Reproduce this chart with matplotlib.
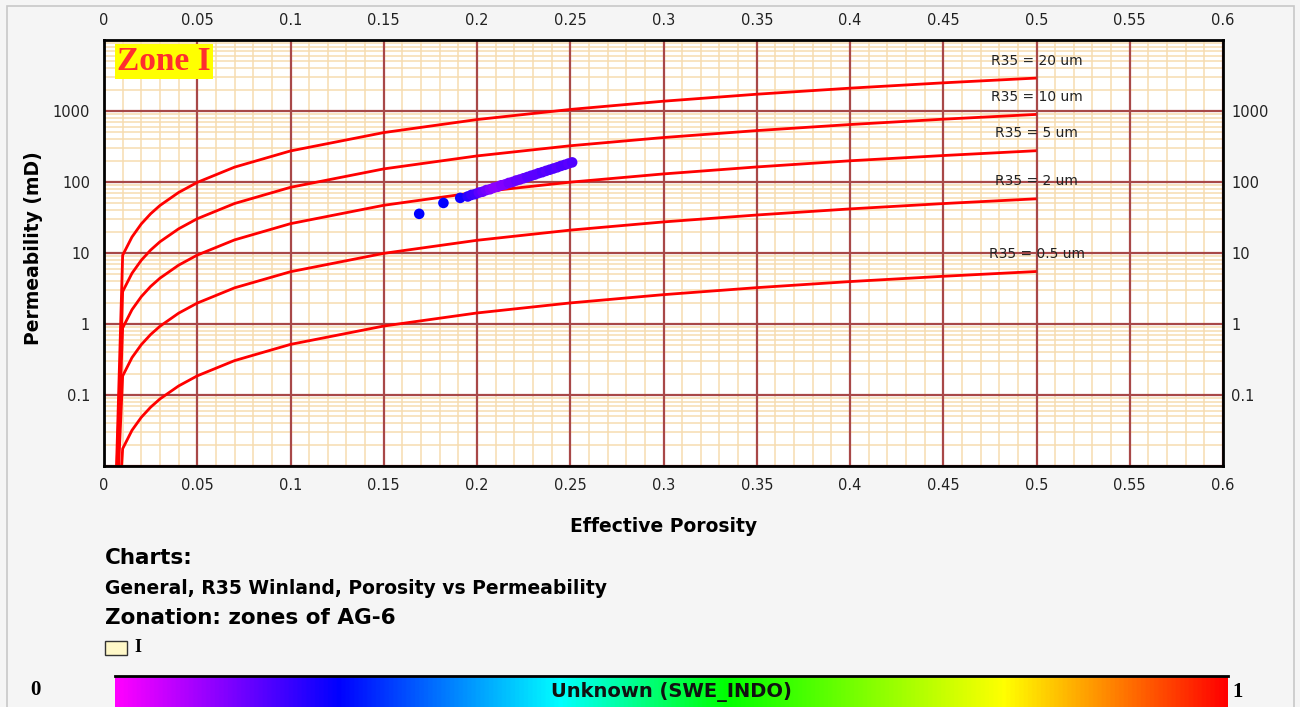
import numpy as np
import matplotlib
matplotlib.use('Agg')
import matplotlib.pyplot as plt
from matplotlib.colors import LinearSegmentedColormap
from matplotlib.patches import Rectangle
from matplotlib.ticker import FixedLocator, LogLocator, NullFormatter

#%% data
phi = [0.0045, 0.01, 0.015, 0.02, 0.025, 0.03, 0.04, 0.05, 0.07, 0.1,
       0.15, 0.2, 0.25, 0.3, 0.35, 0.4, 0.45, 0.5]
k_r20 = [1e-4, 9.29, 16.8, 25.7, 35.7, 46.7, 71.2, 98.8, 162, 274, 497, 758,
         1052, 1375, 1724, 2098, 2494, 2912]
k_r10 = [1e-4, 2.86, 5.18, 7.91, 11.0, 14.4, 21.9, 30.4, 49.8, 84.2, 153, 233,
         324, 423, 530, 645, 767, 896]
k_r5 = [1e-4, 0.879, 1.59, 2.43, 3.38, 4.42, 6.74, 9.35, 15.3, 25.9, 47.0,
        71.7, 99.5, 130, 163, 199, 236, 276]
k_r2 = [1e-4, 0.185, 0.336, 0.512, 0.711, 0.929, 1.42, 1.97, 3.23, 5.45, 9.89,
        15.1, 21.0, 27.4, 34.3, 41.8, 49.7, 58.0]
k_r05 = [1e-4, 0.0175, 0.0318, 0.0485, 0.0673, 0.0880, 0.134, 0.186, 0.305,
         0.516, 0.936, 1.43, 1.98, 2.59, 3.25, 3.96, 4.70, 5.49]
curve_labels = ['R35 = 20 um', 'R35 = 10 um', 'R35 = 5 um', 'R35 = 2 um', 'R35 = 0.5 um']

# samples (effective porosity, permeability, SWE_INDO)
por = [0.169, 0.182, 0.191, 0.195, 0.197, 0.199, 0.201, 0.203, 0.205, 0.207,
       0.209, 0.211, 0.213, 0.215, 0.217, 0.219, 0.221, 0.223, 0.225, 0.227,
       0.229, 0.231, 0.233, 0.235, 0.237, 0.239, 0.241, 0.243, 0.245, 0.247,
       0.249, 0.251]
perm = [35.6, 50.7, 59.7, 62.5, 65.8, 67.5, 71.0, 73.0, 77.0, 79.0,
        83.0, 85.5, 90.0, 92.5, 97.0, 100.0, 105.0, 108.5, 113.0, 117.5,
        122.5, 127.0, 133.0, 137.5, 143.5, 149.0, 155.0, 161.0, 168.5, 174.5,
        182.0, 189.0]
swe = [0.20, 0.20, 0.19, 0.17, 0.16, 0.15, 0.13, 0.12, 0.11, 0.10,
       0.09, 0.09, 0.10, 0.10, 0.11, 0.11, 0.12, 0.12, 0.12, 0.13,
       0.13, 0.13, 0.13, 0.14, 0.13, 0.14, 0.14, 0.13, 0.14, 0.14,
       0.13, 0.14]

x_ticks = [0, 0.05, 0.1, 0.15, 0.2, 0.25, 0.3, 0.35, 0.4, 0.45, 0.5, 0.55, 0.6]
y_ticks = [0.1, 1, 10, 100, 1000]
y_ticklabels = ['0.1', '1', '10', '100', '1000']
y_decades = [0.01, 0.1, 1, 10, 100, 1000, 10000]

cmap_pos = [0, 0.2, 0.4, 0.55, 0.8, 1.0]
cmap_col = ['#ff00ff', '#0000ff', '#00ffff', '#00ff00', '#ffff00', '#ff0000']

#%% figure
bg = '#f5f5f5'
major_c = '#a84848'
minor_c = '#f6dcb0'
txt_c = '#222222'
swe_cmap = LinearSegmentedColormap.from_list('swe', list(zip(cmap_pos, cmap_col)))

fig = plt.figure(figsize=(13, 7.07), dpi=100, facecolor=bg)
fig.patches.append(Rectangle((0.005, -0.01), 0.99, 1.002, transform=fig.transFigure,
                             fill=False, edgecolor='#c8c8c8', lw=1.2))

ax = fig.add_axes([0.08, 0.3409, 0.8608, 0.6025])
ax.set_facecolor('white')
ax.set_yscale('log')
ax.set_xlim(0, 0.6)
ax.set_ylim(0.01, 10000)

# grid: light minor lines, dark major lines drawn on top
ax.xaxis.set_major_locator(FixedLocator(x_ticks))
ax.xaxis.set_minor_locator(FixedLocator(np.round(np.arange(0, 0.601, 0.01), 3)))
ax.yaxis.set_major_locator(FixedLocator(y_ticks))
ax.yaxis.set_minor_locator(LogLocator(base=10, subs=np.arange(2, 10), numticks=20))
ax.yaxis.set_minor_formatter(NullFormatter())
ax.grid(which='minor', color=minor_c, lw=1.1)
ax.set_axisbelow(True)
for xv in x_ticks:
    ax.axvline(xv, color=major_c, lw=1.6, zorder=1)
for yv in y_decades:
    ax.axhline(yv, color=major_c, lw=1.6, zorder=1)

ax.set_xticklabels([f'{v:g}' for v in x_ticks])
ax.set_yticklabels(y_ticklabels)
ax.tick_params(which='both', length=0)
ax.tick_params(axis='x', pad=9, labelsize=10.5, labelcolor=txt_c)
ax.tick_params(axis='y', pad=10, labelsize=10.5, labelcolor=txt_c)

sx = ax.secondary_xaxis('top')
sx.set_xticks(x_ticks)
sx.set_xticklabels([f'{v:g}' for v in x_ticks])
sx.tick_params(length=0, pad=9, labelsize=10.5, labelcolor=txt_c)
sy = ax.secondary_yaxis('right')
sy.set_yticks(y_ticks)
sy.set_yticklabels(y_ticklabels)
sy.yaxis.set_minor_locator(FixedLocator([]))
sy.tick_params(which='both', length=0, pad=6, labelsize=10.5, labelcolor=txt_c)
for s in list(sx.spines.values()) + list(sy.spines.values()):
    s.set_visible(False)

for s in ax.spines.values():
    s.set_linewidth(2)
    s.set_color('black')
    s.set_zorder(7)

# Winland R35 curves
for k, lab in zip([k_r20, k_r10, k_r5, k_r2, k_r05], curve_labels):
    ax.plot(phi, k, color='#ff0000', lw=2, zorder=3, solid_capstyle='butt')
    ax.annotate(lab, (phi[-1], k[-1]), xytext=(0, 12.5), textcoords='offset points',
                ha='center', va='center', fontsize=10, color=txt_c, zorder=4)

# samples
ax.scatter(por, perm, c=swe, cmap=swe_cmap, vmin=0, vmax=1, s=58,
           edgecolors='none', zorder=5)

ax.text(0.012, 0.985, 'Zone I', transform=ax.transAxes, ha='left', va='top',
        fontsize=24, fontweight='bold', family='Liberation Serif', color='#ff2e2e',
        bbox=dict(facecolor='#ffff00', edgecolor='none', pad=1.5), zorder=6)

ax.set_xlabel('Effective Porosity', fontsize=13.5, fontweight='bold', va='center')
ax.xaxis.set_label_coords(0.4996, -0.143)
ax.set_ylabel('Permeability (mD)', fontsize=13.5, fontweight='bold', va='center')
ax.yaxis.set_label_coords(-0.0634, 0.512)

# notes under the chart
fig.text(105 / 1300, 1 - 558 / 707, 'Charts:', fontsize=15.5, fontweight='bold', va='center')
fig.text(105 / 1300, 1 - 588 / 707, 'General, R35 Winland, Porosity vs Permeability',
         fontsize=13.5, fontweight='bold', va='center')
fig.text(105 / 1300, 1 - 618 / 707, 'Zonation: zones of AG-6', fontsize=15.5,
         fontweight='bold', va='center')
fig.patches.append(Rectangle((105 / 1300, 1 - 655 / 707), 22 / 1300, 14 / 707,
                             transform=fig.transFigure, facecolor='#fff8c8',
                             edgecolor='#333333', lw=1))
fig.text(134 / 1300, 1 - 648 / 707, 'I', fontsize=13, fontweight='bold',
         family='Liberation Serif', va='center')

# colour bar
cax = fig.add_axes([115 / 1300, 0, (1228 - 115) / 1300, 31 / 707])
cax.imshow(np.linspace(0, 1, 512)[None, :], aspect='auto', cmap=swe_cmap,
           extent=[0, 1, 0, 1])
cax.set_xticks([])
cax.set_yticks([])
for side, s in cax.spines.items():
    s.set_visible(side == 'top')
    s.set_linewidth(2)
cax.text(0.5, 0.5, 'Unknown (SWE_INDO)', transform=cax.transAxes, ha='center',
         va='center', fontsize=14, fontweight='bold', color='#111111')
fig.text(35 / 1300, 1 - 690 / 707, '0', fontsize=15, fontweight='bold',
         family='Liberation Serif', ha='center', va='center')
fig.text(1238 / 1300, 1 - 692 / 707, '1', fontsize=15, fontweight='bold',
         family='Liberation Serif', ha='center', va='center')

fig.savefig('out.png', dpi=100, facecolor=bg)
